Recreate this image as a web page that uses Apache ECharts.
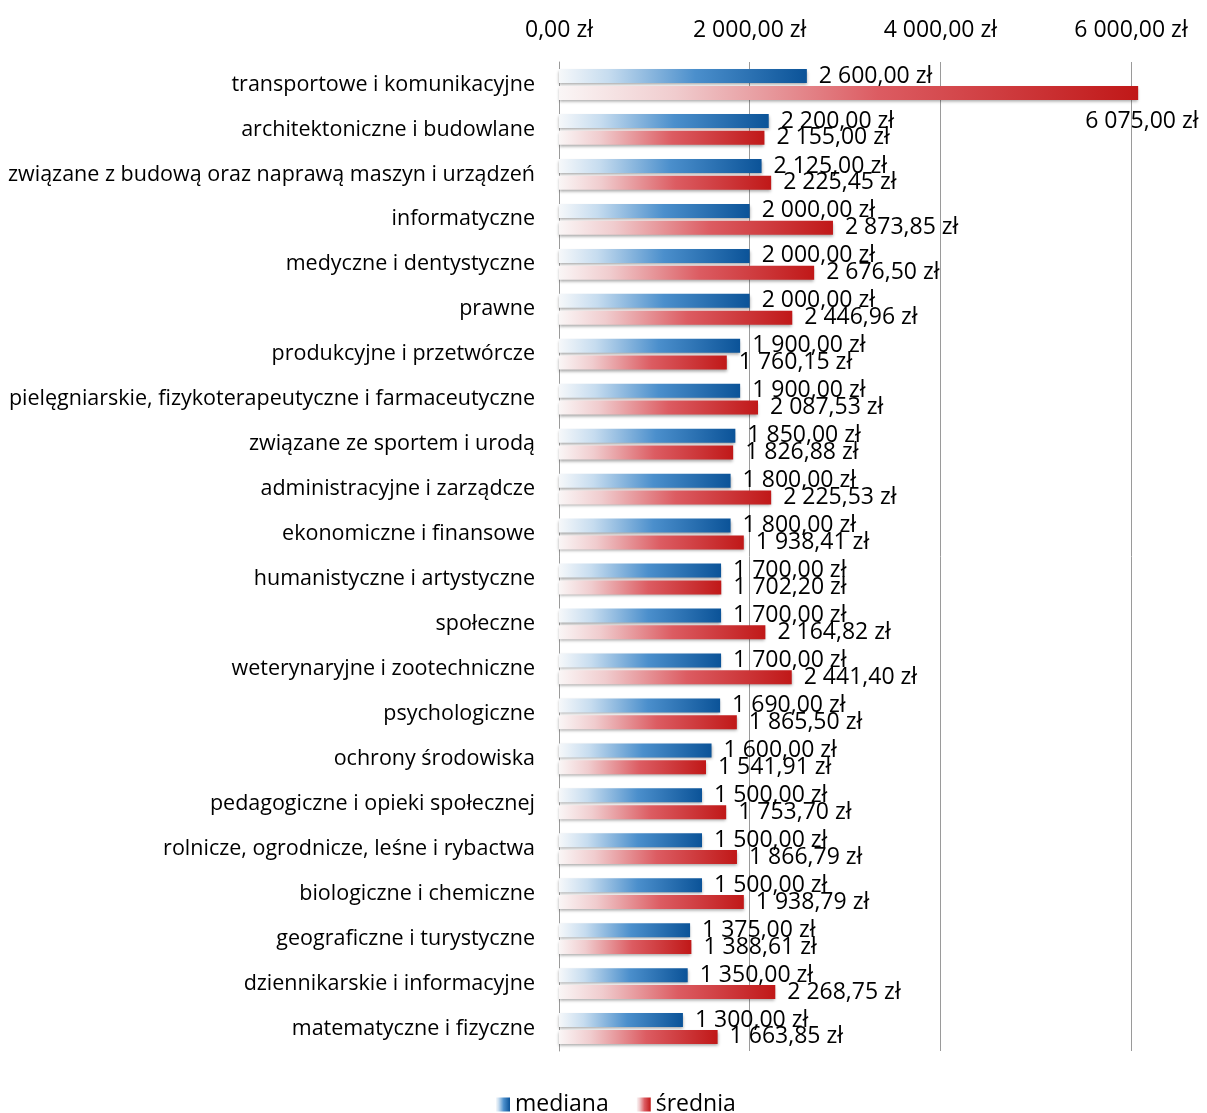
<!DOCTYPE html>
<html>
<head>
<meta charset="utf-8">
<script src="https://cdn.jsdelivr.net/npm/echarts@6/dist/echarts.min.js"></script>
<style>
html,body{margin:0;padding:0;background:#fff;}
#chart{width:1207px;height:1113px;}
</style>
</head>
<body>
<div id="chart"></div>
<script>
const categories = [
  'transportowe i komunikacyjne',
  'architektoniczne i budowlane',
  'związane z budową oraz naprawą maszyn i urządzeń',
  'informatyczne',
  'medyczne i dentystyczne',
  'prawne',
  'produkcyjne i przetwórcze',
  'pielęgniarskie, fizykoterapeutyczne i farmaceutyczne',
  'związane ze sportem i urodą',
  'administracyjne i zarządcze',
  'ekonomiczne i finansowe',
  'humanistyczne i artystyczne',
  'społeczne',
  'weterynaryjne i zootechniczne',
  'psychologiczne',
  'ochrony środowiska',
  'pedagogiczne i opieki społecznej',
  'rolnicze, ogrodnicze, leśne i rybactwa',
  'biologiczne i chemiczne',
  'geograficzne i turystyczne',
  'dziennikarskie i informacyjne',
  'matematyczne i fizyczne'
];
const mediana = [2600, 2200, 2125, 2000, 2000, 2000, 1900, 1900, 1850, 1800, 1800, 1700, 1700, 1700, 1690, 1600, 1500, 1500, 1500, 1375, 1350, 1300];
const srednia = [6075, 2155, 2225.45, 2873.85, 2676.50, 2446.96, 1760.15, 2087.53, 1826.88, 2225.53, 1938.41, 1702.20, 2164.82, 2441.40, 1865.50, 1541.91, 1753.70, 1866.79, 1938.79, 1388.61, 2268.75, 1663.85];
const seriesNames = ['mediana', 'średnia'];
const axisMin = 0, axisMax = 6000, axisStep = 2000;

function fmt(v) {
  const s = Number(v).toFixed(2);
  let [i, d] = s.split('.');
  i = i.replace(/\B(?=(\d{3})+(?!\d))/g, ' ');
  return i + ',' + d + ' zł';
}

const FONT = 'Open Sans';
const blueGrad = new echarts.graphic.LinearGradient(0, 0, 1, 0, [
  {offset: 0, color: '#f6f8fa'},
  {offset: 0.2, color: '#c6dcef'},
  {offset: 0.55, color: '#4b8fcc'},
  {offset: 1, color: '#0b5398'}
]);
const redGrad = new echarts.graphic.LinearGradient(0, 0, 1, 0, [
  {offset: 0, color: '#faf6f6'},
  {offset: 0.2, color: '#f0ccce'},
  {offset: 0.55, color: '#dc5c62'},
  {offset: 1, color: '#c01818'}
]);

const chart = echarts.init(document.getElementById('chart'), null, {renderer: 'canvas'});

const labelCommon = {
  show: true,
  position: 'right',
  distance: 12,
  color: '#000',
  fontFamily: FONT,
  fontSize: 23,
  formatter: p => fmt(p.value)
};

const sredniaData = srednia.map((v, i) => i === 0
  ? {value: v, label: {offset: [-65, 29]}}
  : v);

chart.setOption({
  animation: false,
  backgroundColor: '#fff',
  textStyle: {fontFamily: FONT},
  grid: {left: 559, right: 76, top: 62, bottom: 62, containLabel: false},
  legend: {
    top: 1088,
    left: 491,
    itemWidth: 14,
    itemHeight: 14,
    itemGap: 28,
    icon: 'rect',
    textStyle: {fontFamily: FONT, fontSize: 23, color: '#000'},
    data: seriesNames
  },
  xAxis: {
    type: 'value',
    position: 'top',
    min: axisMin,
    max: axisMax,
    interval: axisStep,
    axisLine: {show: false},
    axisTick: {show: false},
    splitLine: {show: true, lineStyle: {color: '#9a9a9a', width: 1}},
    axisLabel: {
      margin: 20,
      color: '#000',
      fontFamily: FONT,
      fontSize: 23,
      formatter: v => fmt(v)
    }
  },
  yAxis: {
    type: 'category',
    inverse: true,
    data: categories,
    axisLine: {show: true, lineStyle: {color: '#9a9a9a', width: 1}},
    axisTick: {show: false},
    axisLabel: {
      margin: 24,
      color: '#000',
      fontFamily: FONT,
      fontSize: 21.5
    }
  },
  series: [
    {
      name: seriesNames[0],
      type: 'bar',
      data: mediana,
      barWidth: 14,
      barGap: '20%',
      clip: false,
      itemStyle: {
        color: blueGrad,
        shadowColor: 'rgba(0,0,0,0.35)',
        shadowBlur: 3,
        shadowOffsetY: 2
      },
      label: labelCommon
    },
    {
      name: seriesNames[1],
      type: 'bar',
      data: sredniaData,
      barWidth: 14,
      clip: false,
      itemStyle: {
        color: redGrad,
        shadowColor: 'rgba(0,0,0,0.35)',
        shadowBlur: 3,
        shadowOffsetY: 2
      },
      label: labelCommon
    }
  ]
});
</script>
</body>
</html>
